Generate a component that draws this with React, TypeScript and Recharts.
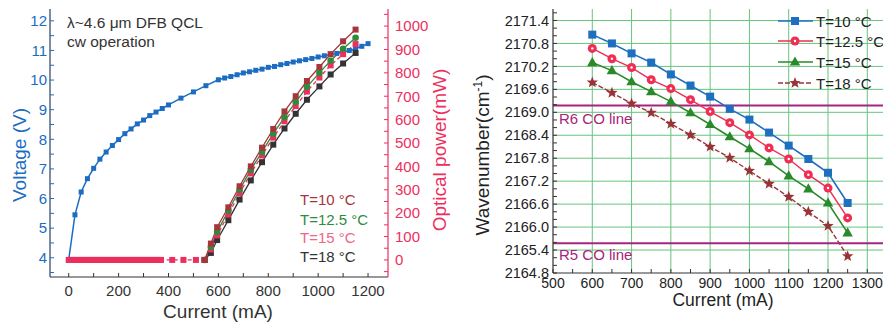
import React from 'react';
import { ComposedChart, Line, XAxis, YAxis, CartesianGrid, ReferenceLine } from 'recharts';

// ---------- Left panel data ----------
const voltageCurrent = [0, 25, 50, 75, 100, 125, 150, 175, 200, 225, 250, 275, 300, 325, 350, 375, 400, 450, 500, 550, 600, 625, 650, 675, 700, 725, 750, 775, 800, 825, 850, 875, 900, 925, 950, 975, 1000, 1025, 1050, 1075, 1100, 1125, 1150, 1175, 1200];
const voltage = [3.93, 5.45, 6.22, 6.67, 7.02, 7.33, 7.57, 7.79, 7.99, 8.19, 8.35, 8.52, 8.65, 8.8, 8.92, 9.04, 9.16, 9.39, 9.6, 9.81, 10.01, 10.07, 10.12, 10.18, 10.24, 10.28, 10.33, 10.37, 10.43, 10.46, 10.52, 10.56, 10.61, 10.65, 10.69, 10.73, 10.78, 10.82, 10.86, 10.9, 10.95, 11.0, 11.06, 11.14, 11.23];

const powerCurrent = [545, 570, 595, 640, 685, 730, 775, 820, 865, 910, 955, 1005, 1050, 1100, 1150];
const power10 = [0, 70, 140, 225, 315, 400, 480, 560, 635, 700, 765, 825, 880, 935, 985];
const power125 = [0, 55, 120, 210, 300, 385, 462, 540, 610, 675, 740, 800, 852, 903, 950];
const power15 = [0, 45, 105, 195, 285, 370, 447, 523, 593, 658, 720, 780, 832, 880, 923];
const power18 = [0, 30, 85, 170, 258, 340, 418, 493, 562, 625, 685, 742, 793, 840, 885];

// T=15 °C trace recorded below threshold
const subCurrent15 = [0, 10, 20, 30, 40, 50, 60, 70, 80, 90, 100, 110, 120, 130, 140, 150, 160, 170, 180, 190, 200, 210, 220, 230, 240, 250, 260, 270, 280, 290, 300, 310, 320, 330, 340, 350, 360, 370, 415, 460, 510];
const subPower15 = [0, 0, 0, 0, 0, 0, 0, 0, 0, 0, 0, 0, 0, 0, 0, 0, 0, 0, 0, 0, 0, 0, 0, 0, 0, 0, 0, 0, 0, 0, 0, 0, 0, 0, 0, 0, 0, 0, 0, 0, 0];

const leftXTicks = [0, 100, 200, 300, 400, 500, 600, 700, 800, 900, 1000, 1100, 1200];
const voltTicks = [3.5, 4, 4.5, 5, 5.5, 6, 6.5, 7, 7.5, 8, 8.5, 9, 9.5, 10, 10.5, 11, 11.5, 12];
const powerTicks = [-50, 0, 50, 100, 150, 200, 250, 300, 350, 400, 450, 500, 550, 600, 650, 700, 750, 800, 850, 900, 950, 1000, 1050];
const tempLabels = ['T=10 °C', 'T=12.5 °C', 'T=15 °C', 'T=18 °C'];

// ---------- Right panel data ----------
const waveCurrent = [600, 650, 700, 750, 800, 850, 900, 950, 1000, 1050, 1100, 1150, 1200, 1250];
const wave10 = [2171.03, 2170.8, 2170.54, 2170.3, 2169.99, 2169.7, 2169.41, 2169.09, 2168.81, 2168.47, 2168.13, 2167.78, 2167.42, 2166.63];
const wave125 = [2170.67, 2170.4, 2170.17, 2169.85, 2169.62, 2169.33, 2169.02, 2168.73, 2168.41, 2168.07, 2167.78, 2167.37, 2167.02, 2166.24];
const wave15 = [2170.3, 2170.09, 2169.8, 2169.54, 2169.28, 2168.99, 2168.68, 2168.36, 2168.05, 2167.71, 2167.34, 2167.0, 2166.63, 2165.85];
const wave18 = [2169.78, 2169.51, 2169.23, 2168.99, 2168.7, 2168.41, 2168.1, 2167.81, 2167.47, 2167.13, 2166.79, 2166.4, 2166.03, 2165.24];
const r6Line = 2169.18;
const r5Line = 2165.58;
const rightXTicks = [500, 550, 600, 650, 700, 750, 800, 850, 900, 950, 1000, 1050, 1100, 1150, 1200, 1250, 1300];
const rightXGrid = [600, 700, 800, 900, 1000, 1100, 1200, 1300];
const waveTicks = [2164.8, 2165.0, 2165.2, 2165.4, 2165.6, 2165.8, 2166.0, 2166.2, 2166.4, 2166.6, 2166.8, 2167.0, 2167.2, 2167.4, 2167.6, 2167.8, 2168.0, 2168.2, 2168.4, 2168.6, 2168.8, 2169.0, 2169.2, 2169.4, 2169.6, 2169.8, 2170.0, 2170.2, 2170.4, 2170.6, 2170.8, 2171.0, 2171.2, 2171.4, 2171.6];
const waveGrid = [2165.4, 2166.0, 2166.6, 2167.2, 2167.8, 2168.4, 2169.0, 2169.6, 2170.2, 2170.8, 2171.4];

const zip = (xs: number[], ys: number[]) => xs.map((x, k) => ({ i: x, y: ys[k] }));

const FONT = 'Liberation Sans, Arial, sans-serif';
const BLUE = '#1b6cc2';
const PINK = '#ec2f5e';
const DRED = '#a8343c';
const GREEN = '#2e8b3c';
const DARK = '#333333';
const W_BLUE = '#1f6fc0';
const W_PINK = '#ef2d55';
const W_GREEN = '#2a8a2a';
const W_BROWN = '#983438';
const CO = '#a8237d';

// ---------- marker shapes ----------
const square = (color: string, s: number) => (p: any) => {
  if (p.cx == null || p.cy == null) return <g key={`s${p.index}`} />;
  return <rect key={`s${p.index}`} x={p.cx - s / 2} y={p.cy - s / 2} width={s} height={s} fill={color} />;
};
const circleDot = (color: string, r: number) => (p: any) => {
  if (p.cx == null || p.cy == null) return <g key={`c${p.index}`} />;
  return (
    <g key={`c${p.index}`}>
      <circle cx={p.cx} cy={p.cy} r={r} fill={color} />
      <circle cx={p.cx} cy={p.cy} r={r * 0.27} fill="#ffffff" />
    </g>
  );
};
const plainCircle = (color: string, r: number) => (p: any) => {
  if (p.cx == null || p.cy == null) return <g key={`pc${p.index}`} />;
  return <circle key={`pc${p.index}`} cx={p.cx} cy={p.cy} r={r} fill={color} />;
};
const triangle = (color: string, r: number) => (p: any) => {
  if (p.cx == null || p.cy == null) return <g key={`t${p.index}`} />;
  const { cx, cy } = p;
  const pts = `${cx},${cy - r} ${cx + r * 0.95},${cy + r * 0.65} ${cx - r * 0.95},${cy + r * 0.65}`;
  return <polygon key={`t${p.index}`} points={pts} fill={color} />;
};
const star = (color: string, r: number) => (p: any) => {
  if (p.cx == null || p.cy == null) return <g key={`st${p.index}`} />;
  const { cx, cy } = p;
  const pts: string[] = [];
  for (let k = 0; k < 10; k++) {
    const rad = k % 2 === 0 ? r : r * 0.42;
    const a = -Math.PI / 2 + (k * Math.PI) / 5;
    pts.push(`${(cx + rad * Math.cos(a)).toFixed(2)},${(cy + rad * Math.sin(a)).toFixed(2)}`);
  }
  return <polygon key={`st${p.index}`} points={pts.join(' ')} fill={color} />;
};

function LeftChart() {
  const vData = zip(voltageCurrent, voltage);
  const subData = zip(subCurrent15, subPower15);
  const d10 = zip(powerCurrent, power10);
  const d125 = zip(powerCurrent, power125);
  const d15 = [...subData, ...zip(powerCurrent, power15)];
  const d18 = zip(powerCurrent, power18);
  const tempColors = [DRED, GREEN, '#f06684', DARK];
  const tempY = [205, 225, 243, 262];
  return (
    <ComposedChart width={460} height={322} margin={{ top: 9, right: 0, bottom: 0, left: 0 }} style={{ fontFamily: FONT }}>
      <XAxis xAxisId="top" orientation="top" type="number" domain={[-75, 1280]} height={0} tick={false} tickLine={false} axisLine={{ stroke: DARK, strokeWidth: 1.2 }} />
      <XAxis
        dataKey="i"
        type="number"
        domain={[-75, 1280]}
        ticks={leftXTicks}
        interval={0}
        height={45}
        tickSize={-4}
        tickMargin={12}
        tickFormatter={(v: number) => (v % 200 === 0 ? String(v) : '')}
        tick={{ fill: DARK, fontSize: 15, fontFamily: FONT }}
        axisLine={{ stroke: DARK, strokeWidth: 1.2 }}
        tickLine={{ stroke: DARK }}
      />
      <YAxis
        yAxisId="v"
        orientation="left"
        width={50}
        type="number"
        domain={[3.35, 12.4]}
        ticks={voltTicks}
        interval={0}
        tickSize={-4}
        tickMargin={7}
        tickFormatter={(v: number) => (Number.isInteger(v) ? String(v) : '')}
        tick={{ fill: BLUE, fontSize: 15, fontFamily: FONT }}
        axisLine={{ stroke: '#27405e', strokeWidth: 1.2 }}
        tickLine={{ stroke: BLUE }}
      />
      <YAxis
        yAxisId="p"
        orientation="right"
        width={72}
        type="number"
        domain={[-73, 1073]}
        ticks={powerTicks}
        interval={0}
        tickSize={-4}
        tickMargin={11}
        tickFormatter={(v: number) => (v % 100 === 0 && v >= 0 && v <= 1000 ? String(v) : '')}
        tick={{ fill: PINK, fontSize: 15, fontFamily: FONT }}
        axisLine={{ stroke: PINK, strokeWidth: 1.2 }}
        tickLine={{ stroke: PINK }}
      />
      <Line yAxisId="v" data={vData} dataKey="y" stroke={BLUE} strokeWidth={1.5} dot={square(BLUE, 5)} isAnimationActive={false} />
      <Line yAxisId="p" data={d18} dataKey="y" stroke={DARK} strokeWidth={1.3} dot={square(DARK, 6)} isAnimationActive={false} />
      <Line yAxisId="p" data={d15} dataKey="y" stroke={PINK} strokeWidth={1.3} strokeDasharray="4 3" dot={square(PINK, 6)} isAnimationActive={false} />
      <Line yAxisId="p" data={d125} dataKey="y" stroke={GREEN} strokeWidth={1.3} dot={plainCircle(GREEN, 3.3)} isAnimationActive={false} />
      <Line yAxisId="p" data={d10} dataKey="y" stroke={DRED} strokeWidth={1.3} dot={square(DRED, 6)} isAnimationActive={false} />
      <text x={67} y={28} fontSize={15.5} fill="#333" fontFamily={FONT}>λ~4.6 μm DFB QCL</text>
      <text x={67} y={47} fontSize={15.5} fill="#333" fontFamily={FONT}>cw operation</text>
      {tempLabels.map((t, k) => (
        <text key={t} x={300} y={tempY[k]} fontSize={15} fill={tempColors[k]} fontFamily={FONT}>{t}</text>
      ))}
      <text x={26} y={155} fontSize={19} fill={BLUE} fontFamily={FONT} textAnchor="middle" transform="rotate(-90 26 155)">Voltage (V)</text>
      <text x={446} y={150} fontSize={19} fill={PINK} fontFamily={FONT} textAnchor="middle" transform="rotate(-90 446 150)">Optical power(mW)</text>
      <text x={218} y={318} fontSize={19} fill={DARK} fontFamily={FONT} textAnchor="middle">Current (mA)</text>
    </ComposedChart>
  );
}

function RightChart() {
  const d10 = zip(waveCurrent, wave10);
  const d125 = zip(waveCurrent, wave125);
  const d15 = zip(waveCurrent, wave15);
  const d18 = zip(waveCurrent, wave18);
  const legend = [
    { label: 'T=10 °C', color: W_BLUE, mk: square(W_BLUE, 8), dash: undefined as string | undefined },
    { label: 'T=12.5 °C', color: W_PINK, mk: circleDot(W_PINK, 4.5), dash: undefined },
    { label: 'T=15 °C', color: W_GREEN, mk: triangle(W_GREEN, 5.5), dash: undefined },
    { label: 'T=18 °C', color: W_BROWN, mk: star(W_BROWN, 6), dash: '5 2' },
  ];
  const legY = [21, 41, 62, 83];
  return (
    <ComposedChart width={428} height={322} margin={{ top: 9, right: 0, bottom: 0, left: 0 }} style={{ fontFamily: FONT }}>
      <CartesianGrid stroke="#66c47e" strokeWidth={1} horizontalValues={waveGrid} verticalValues={rightXGrid} />
      <XAxis xAxisId="top" orientation="top" type="number" domain={[500, 1340]} height={0} tick={false} tickLine={false} axisLine={{ stroke: DARK, strokeWidth: 1.2 }} />
      <XAxis
        dataKey="i"
        type="number"
        domain={[500, 1340]}
        ticks={rightXTicks}
        interval={0}
        height={49}
        tickSize={-4}
        tickMargin={9}
        tickFormatter={(v: number) => (v % 100 === 0 ? String(v) : '')}
        tick={{ fill: '#222', fontSize: 14, fontFamily: FONT }}
        axisLine={{ stroke: DARK, strokeWidth: 1.2 }}
        tickLine={{ stroke: DARK }}
      />
      <YAxis
        width={98}
        type="number"
        domain={[2164.8, 2171.7]}
        ticks={waveTicks}
        interval={0}
        tickSize={-4}
        tickMargin={8}
        tickFormatter={(v: number, idx: number) => (idx % 3 === 0 ? v.toFixed(1) : '')}
        tick={{ fill: '#222', fontSize: 14.5, fontFamily: FONT }}
        axisLine={{ stroke: DARK, strokeWidth: 1.2 }}
        tickLine={{ stroke: DARK }}
      />
      <ReferenceLine y={r6Line} stroke={CO} strokeWidth={2} />
      <ReferenceLine y={r5Line} stroke={CO} strokeWidth={2} />
      <Line data={d10} dataKey="y" stroke={W_BLUE} strokeWidth={1.6} dot={square(W_BLUE, 8)} isAnimationActive={false} />
      <Line data={d125} dataKey="y" stroke={W_PINK} strokeWidth={1.4} dot={circleDot(W_PINK, 4.5)} isAnimationActive={false} />
      <Line data={d15} dataKey="y" stroke={W_GREEN} strokeWidth={1.6} dot={triangle(W_GREEN, 5.5)} isAnimationActive={false} />
      <Line data={d18} dataKey="y" stroke={W_BROWN} strokeWidth={1.4} strokeDasharray="5 2" dot={star(W_BROWN, 6)} isAnimationActive={false} />
      <text x={104} y={124} fontSize={15} fill={CO} fontFamily={FONT}>R6 CO line</text>
      <text x={104} y={260} fontSize={15} fill={CO} fontFamily={FONT}>R5 CO line</text>
      {legend.map((l, k) => (
        <g key={l.label}>
          <line x1={323} x2={358} y1={legY[k]} y2={legY[k]} stroke={l.color} strokeWidth={1.6} strokeDasharray={l.dash} />
          {l.mk({ cx: 340, cy: legY[k], index: 100 + k })}
          <text x={361} y={legY[k] + 5.5} fontSize={15} fill="#222" fontFamily={FONT}>{l.label}</text>
        </g>
      ))}
      <text x={34} y={155} fontSize={19} fill="#222" fontFamily={FONT} textAnchor="middle" transform="rotate(-90 34 155)">
        Wavenumber(cm<tspan dy={-7} fontSize={12}>-1</tspan><tspan dy={7}>)</tspan>
      </text>
      <text x={268} y={306} fontSize={17.5} fill="#222" fontFamily={FONT} textAnchor="middle">Current (mA)</text>
    </ComposedChart>
  );
}

export default function App() {
  return (
    <div style={{ position: 'absolute', left: 0, top: 0, width: 883, height: 322, background: '#ffffff', overflow: 'hidden' }}>
      <div style={{ position: 'absolute', left: 0, top: 0 }}>
        <LeftChart />
      </div>
      <div style={{ position: 'absolute', left: 455, top: 0 }}>
        <RightChart />
      </div>
    </div>
  );
}
